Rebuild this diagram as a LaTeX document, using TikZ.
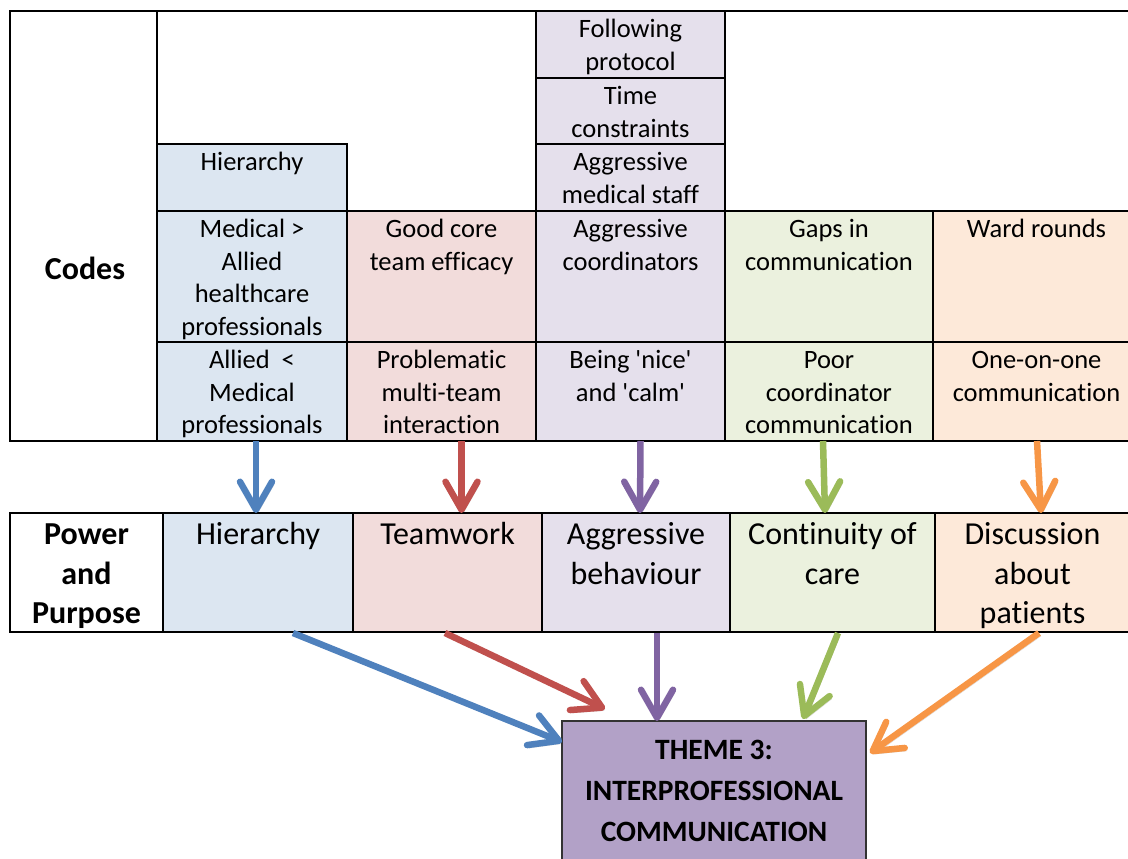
\documentclass[tikz,border=0pt]{standalone}
\usepackage{fontspec}
\setmainfont{Carlito}[Ligatures={TeX,NoCommon}]
\usetikzlibrary{arrows.meta,calc}

% cell fills
\definecolor{fillblue}{HTML}{DCE6F1}
\definecolor{fillred}{HTML}{F2DCDB}
\definecolor{fillpurple}{HTML}{E5E0EC}
\definecolor{fillgreen}{HTML}{EBF1DE}
\definecolor{fillorange}{HTML}{FDE9D9}
\definecolor{filltheme}{HTML}{B2A1C7}
% connector colours
\definecolor{lnblue}{HTML}{4F81BD}
\definecolor{lnred}{HTML}{C0504D}
\definecolor{lnpurple}{HTML}{8064A2}
\definecolor{lngreen}{HTML}{9BBB59}
\definecolor{lnorange}{HTML}{F79646}

\newcommand{\cellfont}{\fontsize{26.5}{32.5}\selectfont}
\newcommand{\midfont}{\fontsize{32}{39.5}\selectfont}
\newcommand{\headfont}{\fontsize{32}{39.5}\selectfont\bfseries}
\newcommand{\themefont}{\fontsize{29.5}{41}\selectfont\bfseries}
\newcommand{\sq}{\textquotesingle}

% \cellbox{name}{fill}{x1}{y1}{x2}{y2}
\newcommand{\cellbox}[6]{%
  \node[cell=#2, anchor=north west, minimum width={#5-#3}, minimum height={#6-#4}] (#1) at (#3,#4) {};}

\begin{document}
\begin{tikzpicture}[x=1pt,y=-1pt,
  cell/.style={rectangle, draw=black, line width=2.2pt, fill=#1, inner sep=0pt, outer sep=0pt},
  frame/.style={draw=black, line width=2.2pt},
  celltext/.style={anchor=north, align=center, inner sep=0pt, font=\cellfont},
  midtext/.style={anchor=north, align=center, inner sep=0pt, font=\midfont},
  headtext/.style={align=center, inner sep=0pt, font=\headfont},
  themebox/.style={rectangle, draw=black!80, line width=1.3pt, fill=filltheme, inner sep=0pt, outer sep=0pt},
  themetext/.style={anchor=north, align=center, inner sep=0pt, font=\themefont},
  link/.style={draw=#1, line width=6.5pt, -{Straight Barb[length=28pt,width=32pt,round]},
    preaction={draw=black, opacity=.18, transform canvas={shift={(2pt,-3pt)}}}},
]
\useasboundingbox (0,0) rectangle (1128,859);
\clip (0,0) rectangle (1128,859);

% ---------- codes table ----------
\draw[frame, fill=white] (10,11) rectangle (1150,441);
\cellbox{codes}{white}{10}{11}{157}{441}
\node[headtext] (codeslbl) at (85,268) {Codes};

\cellbox{bh}{fillblue}{157}{144}{347}{211}
\cellbox{b2}{fillblue}{157}{211}{347}{342}
\cellbox{b3}{fillblue}{157}{342}{347}{441}
\cellbox{r2}{fillred}{347}{211}{536}{342}
\cellbox{r3}{fillred}{347}{342}{536}{441}
\cellbox{pa}{fillpurple}{536}{11}{725}{78}
\cellbox{pb}{fillpurple}{536}{78}{725}{144}
\cellbox{p1}{fillpurple}{536}{144}{725}{211}
\cellbox{p2}{fillpurple}{536}{211}{725}{342}
\cellbox{p3}{fillpurple}{536}{342}{725}{441}
\cellbox{g2}{fillgreen}{725}{211}{933}{342}
\cellbox{g3}{fillgreen}{725}{342}{933}{441}
\cellbox{o2}{fillorange}{933}{211}{1140}{342}
\cellbox{o3}{fillorange}{933}{342}{1140}{441}

\node[celltext] (bh-t) at ([yshift=-4pt]bh.north) {\strut Hierarchy};
\node[celltext] (b2-t) at ([yshift=-4pt]b2.north) {\strut Medical >\\Allied\\healthcare\\professionals};
\node[celltext] (b3-t) at ([yshift=-4pt]b3.north) {\strut Allied\ \ <\\Medical\\professionals};
\node[celltext] (r2-t) at ([yshift=-4pt]r2.north) {\strut Good core\\team efficacy};
\node[celltext] (r3-t) at ([yshift=-4pt]r3.north) {\strut Problematic\\multi-team\\interaction};
\node[celltext] (pa-t) at ([yshift=-4pt]pa.north) {\strut Following\\protocol};
\node[celltext] (pb-t) at ([yshift=-4pt]pb.north) {\strut Time\\constraints};
\node[celltext] (p1-t) at ([yshift=-4pt]p1.north) {\strut Aggressive\\medical staff};
\node[celltext] (p2-t) at ([yshift=-4pt]p2.north) {\strut Aggressive\\coordinators};
\node[celltext] (p3-t) at ([yshift=-4pt]p3.north) {\strut Being \sq nice\sq\\and \sq calm\sq};
\node[celltext] (g2-t) at ([yshift=-4pt]g2.north) {\strut Gaps in\\communication};
\node[celltext] (g3-t) at ([yshift=-4pt]g3.north) {\strut Poor\\coordinator\\communication};
\node[celltext] (o2-t) at ([yshift=-4pt]o2.north) {\strut Ward rounds};
\node[celltext] (o3-t) at ([yshift=-4pt]o3.north) {\strut One-on-one\\communication};

% ---------- power and purpose table ----------
\draw[frame, fill=white] (10,513) rectangle (1150,632);
\cellbox{pp}{white}{10}{513}{163}{632}
\cellbox{mh}{fillblue}{163}{513}{353}{632}
\cellbox{mt}{fillred}{353}{513}{542}{632}
\cellbox{ma}{fillpurple}{542}{513}{730}{632}
\cellbox{mc}{fillgreen}{730}{513}{935}{632}
\cellbox{md}{fillorange}{935}{513}{1134}{632}

\node[headtext] (pp-t) at ([yshift=-4pt]pp.center) {Power\\and\\Purpose};
\node[midtext] (mh-t) at ([yshift=-4pt]mh.north) {\strut Hierarchy};
\node[midtext] (mt-t) at ([yshift=-4pt]mt.north) {\strut Teamwork};
\node[midtext] (ma-t) at ([yshift=-4pt]ma.north) {\strut Aggressive\\behaviour};
\node[midtext] (mc-t) at ([yshift=-4pt]mc.north) {\strut Continuity of\\care};
\node[midtext] (md-t) at ([xshift=-2pt,yshift=-4pt]md.north) {\strut Discussion\\about\\patients};

% ---------- theme ----------
\node[themebox, anchor=north west, minimum width=304, minimum height=170] (theme) at (562,721) {};
\node[themetext] (theme-t) at ([yshift=-9.5pt]theme.north) {\strut THEME 3:\\INTERPROFESSIONAL\\COMMUNICATION};

% ---------- codes to categories ----------
\draw[link=lnblue]   ($(b3.south)+(4,0)$)   -- ($(mh.north)+(-2,0)$);
\draw[link=lnred]    ($(r3.south)+(20,0)$)  -- ($(mt.north)+(14,0)$);
\draw[link=lnpurple] ($(p3.south)+(10,0)$)  -- ($(ma.north)+(4,0)$);
\draw[link=lngreen]  ($(g3.south)+(-6,0)$)  -- ($(mc.north)+(-7.5,0)$);
\draw[link=lnorange] ($(o3.south)+(0.5,0)$) -- ($(md.north)+(6.5,0)$);

% ---------- categories to theme ----------
\draw[link=lnblue]   ($(mh.south)+(35,1)$)   -- ($(theme.north west)+(0,21)$);
\draw[link=lnred]    ($(mt.south)+(-2.5,1)$) -- ($(theme.north west)+(43,-12)$);
\draw[link=lnpurple] ($(ma.south)+(21,1)$)   -- ($(theme.north west)+(95,0)$);
\draw[link=lngreen]  ($(mc.south)+(5.5,1)$)  -- ($(theme.north west)+(241,-2)$);
\draw[link=lnorange] ($(md.south)+(4.5,1)$)  -- ($(theme.north east)+(4,32)$);
\end{tikzpicture}
\end{document}
